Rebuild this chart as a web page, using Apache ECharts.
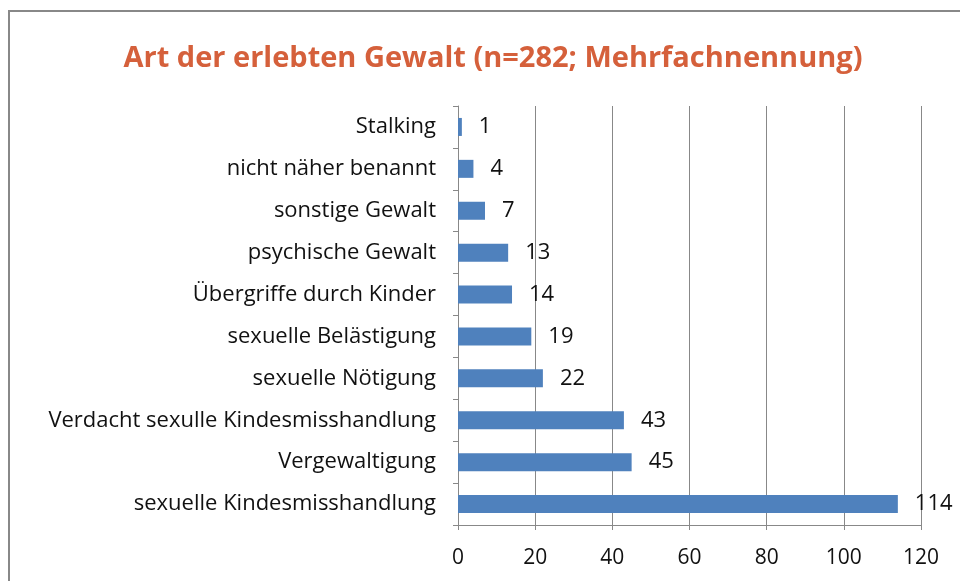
<!DOCTYPE html>
<html>
<head>
<meta charset="utf-8">
<script src="https://cdn.jsdelivr.net/npm/echarts@6/dist/echarts.min.js"></script>
<style>
  html, body { margin: 0; padding: 0; background: #fff; }
  #chart { width: 960px; height: 581px; }
</style>
</head>
<body>
<div id="chart"></div>
<script>
// categories listed bottom to top (echarts category axis runs upward)
const categories = [
  "sexuelle Kindesmisshandlung",
  "Vergewaltigung",
  "Verdacht sexulle Kindesmisshandlung",
  "sexuelle Nötigung",
  "sexuelle Belästigung",
  "Übergriffe durch Kinder",
  "psychische Gewalt",
  "sonstige Gewalt",
  "nicht näher benannt",
  "Stalking"
];
const counts = [114, 45, 43, 22, 19, 14, 13, 7, 4, 1];
const xTicks = [0, 120, 20]; // min, max, interval

const chart = echarts.init(document.getElementById("chart"));
const font = "'Open Sans', 'Liberation Sans', sans-serif";

chart.setOption({
  animation: false,
  title: {
    text: "Art der erlebten Gewalt (n=282; Mehrfachnennung)",
    left: 488,
    textAlign: "center",
    top: 39,
    textStyle: {
      color: "#D5603B",
      fontSize: 29,
      fontWeight: "bold",
      fontFamily: font
    }
  },
  graphic: [
    {
      type: "rect",
      shape: { x: 9, y: 11, width: 1000, height: 700 },
      style: { fill: "none", stroke: "#888", lineWidth: 2 },
      silent: true
    }
  ],
  grid: {
    left: 458,
    right: 39,
    top: 106,
    bottom: 56
  },
  xAxis: {
    type: "value",
    min: xTicks[0],
    max: xTicks[1],
    interval: xTicks[2],
    axisLine: { show: true, lineStyle: { color: "#888", width: 1 } },
    axisTick: { show: true, length: 5, lineStyle: { color: "#888" } },
    splitLine: { show: true, lineStyle: { color: "#888", width: 1 } },
    axisLabel: {
      color: "#111",
      fontSize: 21,
      fontFamily: font,
      margin: 23
    }
  },
  yAxis: {
    type: "category",
    data: categories,
    axisLine: { show: true, lineStyle: { color: "#888", width: 1 } },
    axisTick: { show: true, length: 5, lineStyle: { color: "#888" } },
    axisLabel: {
      color: "#111",
      fontSize: 22,
      fontFamily: font,
      margin: 22
    }
  },
  series: [
    {
      type: "bar",
      data: counts,
      barWidth: 18,
      itemStyle: { color: "#4F81BD" },
      label: {
        show: true,
        position: "right",
        distance: 17,
        color: "#111",
        fontSize: 22,
        fontFamily: font
      }
    }
  ]
});
</script>
</body>
</html>
